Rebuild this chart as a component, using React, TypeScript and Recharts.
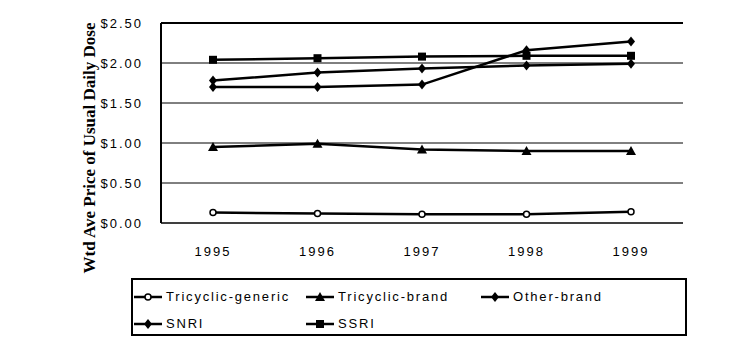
import React from "react";
import { CartesianGrid, Legend, Line, LineChart, ReferenceLine, XAxis, YAxis } from "recharts";

const years = ["1995", "1996", "1997", "1998", "1999"];
const tricyclicGeneric = [0.13, 0.12, 0.11, 0.11, 0.14];
const tricyclicBrand = [0.95, 0.99, 0.92, 0.9, 0.9];
const otherBrand = [1.78, 1.88, 1.93, 1.97, 1.99];
const snri = [1.7, 1.7, 1.73, 2.16, 2.27];
const ssri = [2.04, 2.06, 2.08, 2.09, 2.09];
const yTicks = [0, 0.5, 1, 1.5, 2, 2.5];

const data = years.map((year, i) => ({
  year,
  generic: tricyclicGeneric[i],
  brand: tricyclicBrand[i],
  other: otherBrand[i],
  snri: snri[i],
  ssri: ssri[i],
}));

type Shape = "circle" | "triangle" | "diamond" | "square";

const series: { key: string; name: string; shape: Shape }[] = [
  { key: "generic", name: "Tricyclic-generic", shape: "circle" },
  { key: "brand", name: "Tricyclic-brand", shape: "triangle" },
  { key: "other", name: "Other-brand", shape: "diamond" },
  { key: "snri", name: "SNRI", shape: "diamond" },
  { key: "ssri", name: "SSRI", shape: "square" },
];

function Marker({ shape, cx, cy }: { shape: Shape; cx: number; cy: number }) {
  if (shape === "circle") return <circle cx={cx} cy={cy} r={3} fill="#fff" stroke="#000" strokeWidth={1.5} />;
  if (shape === "triangle")
    return <polygon points={`${cx},${cy - 5} ${cx + 5},${cy + 4} ${cx - 5},${cy + 4}`} fill="#000" />;
  if (shape === "square") return <rect x={cx - 4} y={cy - 4} width={8} height={8} fill="#000" />;
  return <polygon points={`${cx},${cy - 5} ${cx + 4},${cy} ${cx},${cy + 5} ${cx - 4},${cy}`} fill="#000" />;
}

const font = "Arial, 'Liberation Sans', sans-serif";
const colWidths = [172, 175, 200];

function LegendBox() {
  const rows = [series.slice(0, 3), series.slice(3)];
  return (
    <div
      style={{
        boxSizing: "border-box",
        width: 556,
        height: 58,
        border: "2px solid #000",
        background: "#fff",
        fontFamily: font,
        fontSize: 13,
        letterSpacing: 1.8,
        paddingTop: 3,
        whiteSpace: "nowrap",
      }}
    >
      {rows.map((row, r) => (
        <div key={r} style={{ display: "flex", height: 27, alignItems: "center" }}>
          {row.map((s, i) => (
            <div key={s.key} style={{ width: colWidths[i], flexShrink: 0, display: "flex", alignItems: "center" }}>
              <svg width={30} height={12} style={{ marginRight: 3 }}>
                <line x1={1} y1={6} x2={29} y2={6} stroke="#000" strokeWidth={2.5} />
                <Marker shape={s.shape} cx={15} cy={6} />
              </svg>
              <span>{s.name}</span>
            </div>
          ))}
        </div>
      ))}
    </div>
  );
}

export default function App() {
  return (
    <div style={{ position: "absolute", left: 0, top: 0, width: 750, height: 354, background: "#fff" }}>
      <LineChart width={750} height={354} data={data} margin={{ top: 23, right: 67, bottom: 101, left: 0 }}>
        <CartesianGrid vertical={false} stroke="#000" strokeWidth={1} />
        <XAxis
          dataKey="year"
          padding={{ left: 52, right: 52 }}
          axisLine={{ stroke: "#000" }}
          tickLine={false}
          tickMargin={18}
          height={30}
          tick={{ fill: "#000", fontSize: 13, fontFamily: font, letterSpacing: 2 }}
        />
        <YAxis
          domain={[0, 2.5]}
          ticks={yTicks}
          width={161}
          axisLine={{ stroke: "#000", strokeWidth: 2 }}
          tickLine={false}
          tickMargin={12}
          tickFormatter={(v: number) => `$${v.toFixed(2)}`}
          tick={{ fill: "#000", fontSize: 13, fontFamily: font, letterSpacing: 2 }}
          label={{
            value: "Wtd Ave Price of Usual Daily Dose",
            angle: -90,
            position: "insideLeft",
            dx: 84,
            dy: 25,
            style: {
              textAnchor: "middle",
              fontFamily: "'Liberation Serif', 'Times New Roman', serif",
              fontWeight: "bold",
              fontSize: 17,
              fill: "#000",
            },
          }}
        />
        <ReferenceLine y={2.5} stroke="#000" strokeWidth={2} />
        {series.map((s) => (
          <Line
            key={s.key}
            dataKey={s.key}
            name={s.name}
            stroke="#000"
            strokeWidth={2.5}
            isAnimationActive={false}
            dot={(p: any) => <Marker key={`${s.key}-${p.index}`} shape={s.shape} cx={p.cx} cy={p.cy} />}
          />
        ))}
        <Legend
          layout="horizontal"
          verticalAlign="middle"
          align="center"
          wrapperStyle={{ position: "absolute", left: 131, top: 278, width: 556, height: 58 }}
          content={() => <LegendBox />}
        />
      </LineChart>
    </div>
  );
}
